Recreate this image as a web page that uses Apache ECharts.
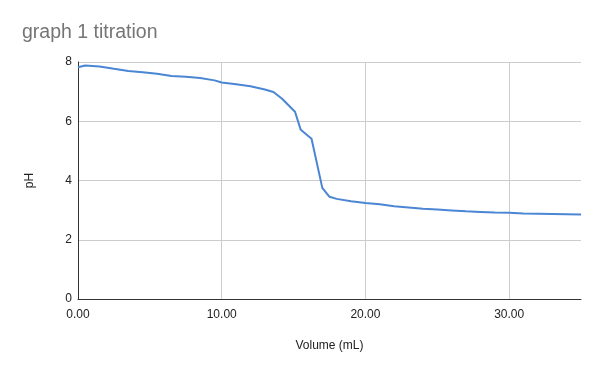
<!DOCTYPE html>
<html><head><meta charset="utf-8">
<script src="https://cdn.jsdelivr.net/npm/echarts@6/dist/echarts.min.js"></script>
<style>html,body{margin:0;padding:0;background:#fff}#c{width:600px;height:371px}</style>
</head><body><div id="c"></div>
<script>
const volume = [0, 0.5, 1.5, 2.5, 3.5, 4.5, 5.5, 6.5, 7.5, 8.5, 9.5, 10, 11, 12, 13, 13.6, 14.2, 15.1, 15.5, 16.25, 17, 17.5, 18, 19, 20, 21, 22, 23, 24, 25, 26, 27, 28, 29, 30, 31, 32, 33, 34, 35];
const pH = [7.82, 7.88, 7.85, 7.77, 7.70, 7.65, 7.60, 7.53, 7.50, 7.46, 7.38, 7.31, 7.25, 7.18, 7.07, 6.99, 6.76, 6.32, 5.71, 5.41, 3.75, 3.45, 3.38, 3.30, 3.24, 3.20, 3.13, 3.09, 3.05, 3.02, 2.99, 2.96, 2.94, 2.92, 2.91, 2.89, 2.88, 2.87, 2.86, 2.85];
const title = 'graph 1 titration';
const xName = 'Volume (mL)';
const yName = 'pH';

const chart = echarts.init(document.getElementById('c'), null, {renderer: 'canvas'});
const font = 'Arial, "Liberation Sans", sans-serif';
chart.setOption({
  animation: false,
  backgroundColor: '#fff',
  title: {text: title, left: 17, top: 18, textStyle: {fontFamily: font, fontSize: 19.5, fontWeight: 'normal', color: '#757575'}},
  grid: {left: 78, right: 19, top: 62, bottom: 72},
  xAxis: {
    type: 'value', min: 0, max: 35, interval: 10,
    name: xName, nameLocation: 'middle', nameGap: 41,
    nameTextStyle: {fontFamily: font, fontSize: 12, color: '#222'},
    axisLine: {show: true, lineStyle: {color: '#333', width: 1}},
    axisTick: {show: false},
    axisLabel: {fontFamily: font, fontSize: 12, color: '#222', margin: 10, showMaxLabel: false,
      formatter: v => v === 35 ? '' : v.toFixed(2)},
    splitLine: {show: true, showMaxLine: false, showMinLine: false, lineStyle: {color: '#ccc'}}
  },
  yAxis: {
    type: 'value', min: 0, max: 8, interval: 2,
    name: yName, nameLocation: 'middle', nameGap: 42, nameRotate: 90,
    nameTextStyle: {fontFamily: font, fontSize: 12, color: '#222'},
    axisLine: {show: true, lineStyle: {color: '#333', width: 1}},
    axisTick: {show: false},
    axisLabel: {fontFamily: font, fontSize: 12, color: '#222', margin: 6},
    splitLine: {show: true, lineStyle: {color: '#ccc'}}
  },
  series: [{
    type: 'line', data: volume.map((v, i) => [v, pH[i]]),
    showSymbol: false, symbol: 'none',
    lineStyle: {color: '#4a86d4', width: 2}, itemStyle: {color: '#4a86d4'}
  }]
});
</script></body></html>
